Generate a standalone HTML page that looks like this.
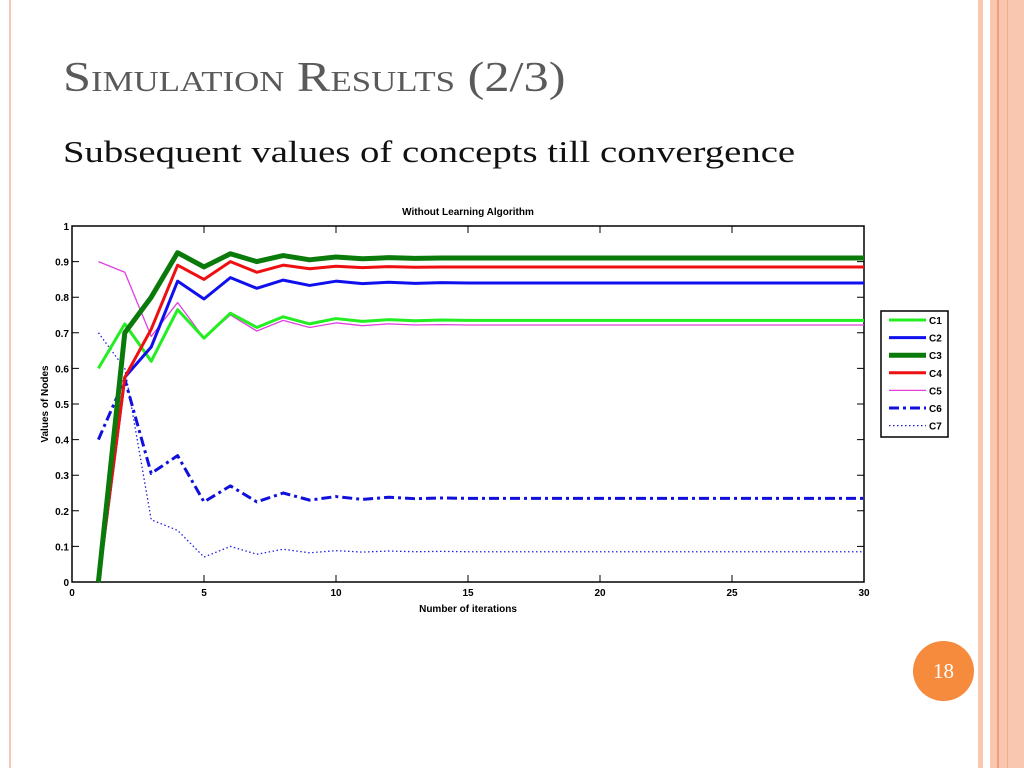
<!DOCTYPE html>
<html><head><meta charset="utf-8"><style>
body{margin:0;width:1024px;height:768px;background:#fff;overflow:hidden;position:relative;font-family:"Liberation Serif",serif}
.abs{position:absolute}
</style></head><body>
<div class="abs" style="left:9px;top:0;width:2px;height:768px;background:#f8c8b4"></div>
<div class="abs" style="left:978px;top:0;width:46px;height:768px;background:#f9c6b0"></div>
<div class="abs" style="left:983px;top:0;width:7px;height:768px;background:#fff"></div>
<div class="abs" style="left:997px;top:0;width:2px;height:768px;background:#ef9e7e"></div>
<div class="abs" style="left:1007px;top:0;width:1px;height:768px;background:#f2ad90"></div>
<div class="abs" style="left:63px;top:54px;font-size:42px;color:#5a5a5a;font-variant:small-caps;white-space:nowrap;transform:scaleX(1.2);transform-origin:0 0">Simulation Results (2/3)</div>
<div class="abs" style="left:63px;top:134px;font-size:31px;color:#111;white-space:nowrap;transform:scaleX(1.25);transform-origin:0 0">Subsequent values of concepts till convergence</div>
<div class="abs" style="left:913px;top:641px;width:61px;height:60px;border-radius:50%;background:#f68a3d;color:#fff;font-size:21px;text-align:center;line-height:60px">18</div>
<svg class="abs" style="left:0;top:0" width="1024" height="768" id="chart" font-family="Liberation Sans, sans-serif"></svg>
<script>
const iterations=[1,2,3,4,5,6,7,8,9,10,11,12,13,14,15,16,17,18,19,20,21,22,23,24,25,26,27,28,29,30];
const c1=[0.6,0.725,0.62,0.765,0.685,0.755,0.715,0.745,0.725,0.74,0.732,0.737,0.734,0.736,0.735,0.735,0.735,0.735,0.735,0.735,0.735,0.735,0.735,0.735,0.735,0.735,0.735,0.735,0.735,0.735];
const c2=[0,0.575,0.66,0.845,0.795,0.855,0.825,0.848,0.833,0.845,0.838,0.842,0.839,0.841,0.84,0.84,0.84,0.84,0.84,0.84,0.84,0.84,0.84,0.84,0.84,0.84,0.84,0.84,0.84,0.84];
const c3=[0,0.70,0.80,0.925,0.885,0.922,0.90,0.917,0.905,0.913,0.908,0.911,0.909,0.91,0.91,0.91,0.91,0.91,0.91,0.91,0.91,0.91,0.91,0.91,0.91,0.91,0.91,0.91,0.91,0.91];
const c4=[0,0.575,0.71,0.89,0.85,0.90,0.87,0.89,0.88,0.887,0.883,0.886,0.884,0.885,0.885,0.885,0.885,0.885,0.885,0.885,0.885,0.885,0.885,0.885,0.885,0.885,0.885,0.885,0.885,0.885];
const c5=[0.9,0.87,0.69,0.785,0.685,0.75,0.705,0.735,0.715,0.728,0.72,0.725,0.722,0.723,0.722,0.722,0.722,0.722,0.722,0.722,0.722,0.722,0.722,0.722,0.722,0.722,0.722,0.722,0.722,0.722];
const c6=[0.4,0.57,0.305,0.355,0.225,0.27,0.225,0.25,0.23,0.24,0.232,0.238,0.234,0.236,0.235,0.235,0.235,0.235,0.235,0.235,0.235,0.235,0.235,0.235,0.235,0.235,0.235,0.235,0.235,0.235];
const c7=[0.7,0.6,0.175,0.145,0.07,0.10,0.078,0.092,0.082,0.088,0.084,0.087,0.085,0.086,0.085,0.085,0.085,0.085,0.085,0.085,0.085,0.085,0.085,0.085,0.085,0.085,0.085,0.085,0.085,0.085];
const xTicks=[0,5,10,15,20,25,30];
const yTicks=[0,0.1,0.2,0.3,0.4,0.5,0.6,0.7,0.8,0.9,1];
const seriesNames=["C1","C2","C3","C4","C5","C6","C7"];

const svg=document.getElementById('chart');
const NS='http://www.w3.org/2000/svg';
const X0=72,X1=864,Y0=582,Y1=226;
const sx=v=>X0+(X1-X0)*v/30, sy=v=>Y0-(Y0-Y1)*v;
function mk(t,a){const e=document.createElementNS(NS,t);for(const k in a)e.setAttribute(k,a[k]);svg.appendChild(e);return e;}
const box=mk('rect',{x:X0,y:Y1,width:X1-X0,height:Y0-Y1,fill:'#fff',stroke:'#000','stroke-width':1.5});


xTicks.forEach(t=>{
  const x=sx(t);
  const tk=mk('path',{d:`M${x},${Y0}v-7M${x},${Y1}v7`,stroke:'#000','stroke-width':1});
  
  
  const l=mk('text',{x:x,y:Y0+14,'font-size':10,'font-weight':'bold','text-anchor':'middle'});
  l.textContent=t;
  
  
});
yTicks.forEach(t=>{
  const y=sy(t);
  const tk=mk('path',{d:`M${X0},${y}h7M${X1},${y}h-7`,stroke:'#000','stroke-width':1});
  
  
  const l=mk('text',{x:X0-3,y:y+4,'font-size':10,'font-weight':'bold','text-anchor':'end'});
  l.textContent=t;
  
  
});
const styles=[
 {c:'#22ee22',w:3,d:''},{c:'#1010ee',w:3,d:''},{c:'#0a7a0a',w:5,d:''},{c:'#ee1010',w:3,d:''},
 {c:'#e040e0',w:1.3,d:''},{c:'#1010dd',w:3,d:'10,4,3,4'},{c:'#2020dd',w:1.3,d:'1.5,2.5'}];
const data=[c1,c2,c3,c4,c5,c6,c7];
const drawOrder=[4,6,5,0,1,3,2];
drawOrder.forEach(i=>{
  const p=mk('polyline',{points:data[i].map((v,j)=>sx(iterations[j])+','+sy(v)).join(' '),fill:'none',stroke:styles[i].c,'stroke-width':styles[i].w,'stroke-dasharray':styles[i].d,'stroke-linejoin':'round'});
  
  
});
const t=mk('text',{x:468,y:215,'font-size':10,'font-weight':'bold','text-anchor':'middle'});t.textContent='Without Learning Algorithm';


const xl=mk('text',{x:468,y:612,'font-size':10,'font-weight':'bold','text-anchor':'middle'});xl.textContent='Number of iterations';


const yl=mk('text',{x:0,y:0,'font-size':10,'font-weight':'bold','text-anchor':'middle',transform:'translate(48,404) rotate(-90)'});yl.textContent='Values of Nodes';


const lg=mk('rect',{x:881,y:311,width:67,height:126,fill:'#fff',stroke:'#000','stroke-width':1.5});


seriesNames.forEach((n,i)=>{
  const y=320+i*17.6;
  const ln=mk('line',{x1:889,y1:y,x2:926,y2:y,stroke:styles[i].c,'stroke-width':styles[i].w,'stroke-dasharray':styles[i].d});
  
  
  const tx=mk('text',{x:929,y:y+4,'font-size':10,'font-weight':'bold'});tx.textContent=n;
  
  
});
</script>
</body></html>
